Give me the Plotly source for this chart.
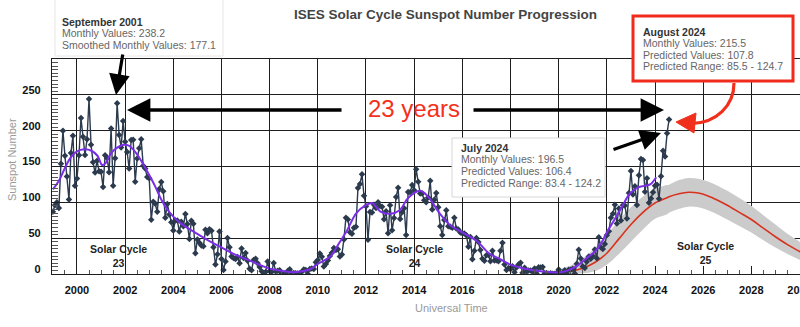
import plotly.graph_objects as go

# ---------------- data ----------------
start_year = 1999
monthly_values = [
    # 1999
    86.9, 96.0, 100.0, 92.0, 154.0, 200.0, 165.0, 136.0, 104.0, 169.0, 193.0, 123.0,
    # 2000
    133.1, 165.7, 217.7, 191.5, 165.9, 188.0, 244.3, 180.5, 156.0, 141.6, 158.1, 143.3,
    # 2001
    142.6, 121.5, 165.8, 161.7, 142.1, 202.9, 123.0, 161.5, 238.2, 194.1, 176.6, 213.4,
    # 2002
    184.6, 170.2, 147.1, 186.9, 187.5, 128.8, 161.0, 175.6, 187.9, 151.2, 147.2, 135.3,
    # 2003
    133.5, 75.7, 100.7, 97.9, 86.8, 118.7, 128.3, 115.4, 78.5, 97.8, 82.9, 72.2,
    # 2004
    60.6, 74.6, 74.8, 59.2, 72.8, 66.5, 83.8, 69.7, 48.8, 74.2, 70.1, 28.9,
    # 2005
    48.1, 43.5, 39.6, 38.7, 61.9, 56.8, 62.4, 60.5, 37.2, 13.2, 27.5, 59.3,
    # 2006
    20.9, 5.7, 17.3, 50.3, 37.2, 24.5, 22.2, 20.8, 23.7, 14.9, 35.7, 22.3,
    # 2007
    29.3, 18.4, 7.2, 5.4, 19.5, 21.3, 15.1, 9.8, 4.0, 1.5, 2.8, 17.3,
    # 2008
    4.1, 2.9, 15.5, 3.6, 4.6, 5.2, 0.6, 0.3, 1.2, 4.2, 6.6, 1.0,
    # 2009
    1.3, 1.2, 0.6, 1.2, 2.9, 6.3, 5.5, 0.0, 7.1, 7.7, 6.9, 16.3,
    # 2010
    19.5, 28.5, 24.0, 10.4, 13.9, 18.8, 25.2, 29.6, 36.4, 33.6, 34.4, 24.5,
    # 2011
    27.3, 48.3, 78.6, 76.1, 58.2, 56.1, 64.5, 65.8, 120.1, 125.7, 139.1, 109.3,
    # 2012
    94.4, 47.8, 86.6, 85.9, 96.5, 92.0, 100.1, 94.8, 93.7, 76.5, 87.6, 56.8,
    # 2013
    96.1, 60.9, 78.3, 107.3, 120.2, 76.7, 86.2, 91.8, 54.5, 114.4, 113.9, 124.2,
    # 2014
    117.0, 146.1, 128.7, 112.5, 112.5, 102.9, 100.2, 106.9, 130.0, 90.0, 103.6, 112.9,
    # 2015
    93.0, 66.7, 54.5, 75.3, 88.8, 66.5, 65.8, 64.4, 78.6, 63.6, 62.2, 58.0,
    # 2016
    57.0, 56.4, 54.1, 37.9, 51.5, 20.5, 32.4, 50.2, 44.6, 33.4, 21.4, 18.5,
    # 2017
    26.1, 26.4, 17.7, 32.3, 18.9, 19.2, 17.8, 32.6, 43.7, 13.2, 5.7, 8.2,
    # 2018
    6.8, 10.7, 2.5, 8.9, 13.1, 15.6, 1.6, 8.7, 3.3, 4.9, 4.9, 3.1,
    # 2019
    7.7, 0.8, 9.4, 9.1, 9.9, 1.2, 0.9, 0.5, 1.1, 0.4, 0.5, 1.5,
    # 2020
    6.2, 0.2, 1.5, 5.2, 0.2, 5.8, 6.1, 7.5, 0.6, 14.4, 34.0, 21.8,
    # 2021
    10.4, 8.2, 17.2, 24.5, 21.2, 25.0, 34.3, 22.0, 51.3, 37.4, 34.8, 41.9,
    # 2022
    54.0, 59.7, 78.5, 84.1, 96.5, 70.5, 91.4, 74.6, 96.0, 95.5, 77.6, 113.1,
    # 2023
    143.6, 110.9, 122.6, 96.4, 137.9, 160.5, 159.1, 114.8, 133.6, 99.4, 105.4, 114.2,
    # 2024
    123.0, 124.7, 104.9, 136.5, 172.1, 163.8, 196.5, 215.5,
]

smoothed_t = [1999.0, 1999.25, 1999.5, 1999.75, 2000.0, 2000.3, 2000.6, 2000.85, 2001.05,
              2001.2, 2001.4, 2001.7, 2001.9, 2002.15, 2002.45, 2002.75, 2003.0, 2003.25,
              2003.5, 2003.75, 2004.0, 2004.3, 2004.6, 2005.0, 2005.5, 2006.0, 2006.5,
              2007.0, 2007.5, 2008.0, 2008.5, 2008.95, 2009.3, 2009.7, 2010.0, 2010.5,
              2010.9, 2011.2, 2011.6, 2012.0, 2012.25, 2012.6, 2013.0, 2013.4, 2013.75,
              2014.25, 2014.6, 2015.05, 2015.5, 2016.0, 2016.6, 2017.1, 2017.55, 2018.0,
              2018.5, 2019.0, 2019.5, 2019.95, 2020.3, 2020.75, 2021.15, 2021.5, 2021.8,
              2022.0, 2022.3, 2022.6, 2022.95, 2023.3, 2023.55, 2023.8, 2024.05]
smoothed_v = [118, 130, 148, 163, 171, 174, 172, 165, 152,
              155, 168, 177, 180, 179, 169, 153, 138, 122,
              104, 90, 80, 71, 64, 56, 46, 37, 28,
              21, 14, 7.5, 4.5, 2.5, 3.5, 7, 14, 24,
              44, 60, 85, 96, 99, 87, 84, 89, 106,
              116, 107, 85, 68, 58, 46, 29, 21, 13,
              8, 5, 3, 2, 4, 11, 22, 31, 45,
              58, 75, 92, 112, 121, 123, 125, 135]

pred_t = [2019.9, 2020.5, 2021.0, 2021.5, 2022.0, 2022.5, 2023.0, 2023.5, 2024.0, 2024.5,
          2024.583, 2025.0, 2025.4, 2025.8, 2026.2, 2026.6, 2027.0, 2027.5, 2028.0,
          2028.5, 2029.0, 2029.5, 2030.0, 2030.3]
pred_v = [2, 4, 8, 16, 29, 49, 69, 86, 99, 106.4,
          107.8, 112, 114, 113, 109, 103, 96, 86, 76,
          64, 52, 41, 31.5, 26]
pred_lo = [0, 0, 1, 4, 13, 28, 45, 62, 77, 83.4,
           85.5, 91, 94, 93, 89, 83, 76, 67, 58,
           47, 37, 28, 20, 16]
pred_hi = [5, 12, 22, 36, 55, 75, 93, 108, 119, 124.2,
           124.7, 131, 134, 133, 129, 123, 116, 106, 95,
           82, 69, 56, 45, 39]

x_ticks = list(range(2000, 2032, 2))
y_ticks = [0, 50, 100, 150, 200, 250]

cycle_labels = ["Solar Cycle<br>23", "Solar Cycle<br>24", "Solar Cycle<br>25"]
cycle_x = [2001.73, 2014.02, 2026.09]
cycle_y = [25, 25, 29]

# ---------------- layout helpers ----------------
W, H = 800, 327
ML, MR, MT, MB = 52, 0, 59, 53
PW, PH = W - ML - MR, H - MT - MB


def px(xp):
    return (xp - ML) / PW


def py(yp):
    return (H - MB - yp) / PH


FONT = "Liberation Sans, Arial, Helvetica, sans-serif"

monthly_t = [start_year + i / 12 for i in range(len(monthly_values))]

fig = go.Figure()
# white area under the predicted range (hides grid there)
fig.add_trace(go.Scatter(x=pred_t, y=pred_hi, mode="lines", line=dict(width=0, shape="spline"),
                         fill="tozeroy", fillcolor="white", hoverinfo="skip"))
fig.add_trace(go.Scatter(x=pred_t, y=pred_lo, mode="lines", line=dict(width=0, shape="spline"),
                         hoverinfo="skip"))
fig.add_trace(go.Scatter(x=pred_t, y=pred_hi, mode="lines", line=dict(width=0, shape="spline"),
                         fill="tonexty", fillcolor="#cbcbcb", hoverinfo="skip"))
fig.add_trace(go.Scatter(x=pred_t, y=pred_v, mode="lines",
                         line=dict(color="#d8321e", width=1.6, shape="spline")))
fig.add_trace(go.Scatter(x=monthly_t, y=monthly_values, mode="lines+markers",
                         line=dict(color="#2c3a4e", width=1.4),
                         marker=dict(symbol="diamond", size=5, color="#2c3a4e")))
fig.add_trace(go.Scatter(x=smoothed_t, y=smoothed_v, mode="lines",
                         line=dict(color="#7b2ee6", width=2, shape="spline")))

fig.update_layout(
    width=W, height=H, margin=dict(l=ML, r=MR, t=MT, b=MB, autoexpand=False),
    paper_bgcolor="white", plot_bgcolor="white", showlegend=False,
    font=dict(family=FONT),
    xaxis=dict(range=[1998.963, 2030.02], tickmode="array", tickvals=x_ticks,
               ticktext=[str(v) for v in x_ticks],
               showgrid=True, gridcolor="#1e1e1e", gridwidth=1,
               showline=True, linecolor="#1e1e1e", linewidth=1.2, mirror=True,
               ticks="inside", ticklen=8, tickcolor="#1e1e1e",
               tickfont=dict(size=11, color="#111", weight="bold"),
               minor=dict(tickmode="linear", tick0=2000, dtick=0.5, ticks="inside",
                          ticklen=4, tickcolor="#555", showgrid=False),
               zeroline=False, ticklabelstandoff=6, ticklabeloverflow="allow",
               automargin=False),
    yaxis=dict(range=[0, 300], tickmode="array", tickvals=y_ticks,
               ticktext=[str(v) for v in y_ticks],
               showgrid=True, gridcolor="#1e1e1e", gridwidth=1,
               showline=True, linecolor="#1e1e1e", linewidth=1.2, mirror=False,
               ticks="inside", ticklen=9, tickcolor="#1e1e1e",
               tickfont=dict(size=11, color="#111", weight="bold"),
               minor=dict(tickmode="linear", tick0=0, dtick=5, ticks="inside",
                          ticklen=6, tickcolor="#555", showgrid=False),
               zeroline=False, ticklabelshift=-5, ticklabelstandoff=8,
               automargin=False),
)

shapes = []
annotations = []


def label(xp, yp, text, size, color, weight="normal", angle=0, xanchor="center"):
    annotations.append(dict(xref="paper", yref="paper", x=px(xp), y=py(yp), showarrow=False,
                            xanchor=xanchor, yanchor="middle", text=text, textangle=angle,
                            font=dict(size=size, color=color, weight=weight)))


# title and axis titles
label(445.5, 14, "ISES Solar Cycle Sunspot Number Progression", 13.5, "#444", "bold")
label(12, 160, "Sunspot Number", 11, "#9a9a9a", angle=-90)
label(451.7, 308, "Universal Time", 11, "#9a9a9a")

# solar cycle labels
for t, xv, yv in zip(cycle_labels, cycle_x, cycle_y):
    annotations.append(dict(x=xv, y=yv, xref="x", yref="y", text=t, showarrow=False,
                            xanchor="center", yanchor="middle",
                            font=dict(size=10.5, color="#222", weight="bold")))


def info_box(x0, x1, y0, y1, tx, ys, lines, border, bw):
    shapes.append(dict(type="rect", xref="paper", yref="paper", x0=px(x0), x1=px(x1),
                       y0=py(y1), y1=py(y0), fillcolor="white",
                       line=dict(color=border, width=bw), layer="above"))
    for i, (line, yy) in enumerate(zip(lines, ys)):
        label(tx, yy, line, 10.5, "#333" if i == 0 else "#666",
              "bold" if i == 0 else "normal", xanchor="left")


info_box(55, 223, -6, 56, 60, [22, 33.3, 44.6],
         ["September 2001", "Monthly Values: 238.2", "Smoothed Monthly Values: 177.1"],
         "#e6e6e6", 1)
info_box(452, 605, 138, 197, 459, [147.7, 159.3, 170.9, 182.5],
         ["July 2024", "Monthly Values: 196.5", "Predicted Values: 106.4",
          "Predicted Range: 83.4 - 124.2"], "#d6d6d6", 1)
info_box(633, 793, 16, 81, 641, [31.7, 43.1, 54.5, 65.9],
         ["August 2024", "Monthly Values: 215.5", "Predicted Values: 107.8",
          "Predicted Range: 85.5 - 124.7"], "#f02a1c", 3)


def arrow(hx, hy, tx, ty, color="black", w=3.2, size=1.3):
    annotations.append(dict(xref="paper", yref="paper", x=px(hx), y=py(hy),
                            ax=tx - hx, ay=ty - hy, axref="pixel", ayref="pixel",
                            text="", showarrow=True, arrowhead=2, arrowsize=size,
                            arrowwidth=w, arrowcolor=color, standoff=0, startstandoff=0))


arrow(116, 95, 123, 53)
arrow(127, 110, 343, 110, w=3.6)
arrow(664, 110, 472, 110, w=3.6)
arrow(661, 133, 612, 150)

label(414, 108, "23 years", 24, "#f5301a")

# red curved arrow
curve = "M {},{} C {},{} {},{} {},{}".format(
    px(734), py(83), px(734), py(106), px(716), py(123), px(692), py(123.5))
shapes.append(dict(type="path", xref="paper", yref="paper", path=curve,
                   line=dict(color="#f0301c", width=3.2), layer="above"))
head = "M {},{} L {},{} L {},{} Z".format(px(676), py(122), px(696), py(113),
                                          px(694), py(133))
shapes.append(dict(type="path", xref="paper", yref="paper", path=head,
                   fillcolor="#f0301c", line=dict(color="#f0301c", width=1), layer="above"))

fig.update_layout(shapes=shapes, annotations=annotations)
fig.write_html("out.html")
